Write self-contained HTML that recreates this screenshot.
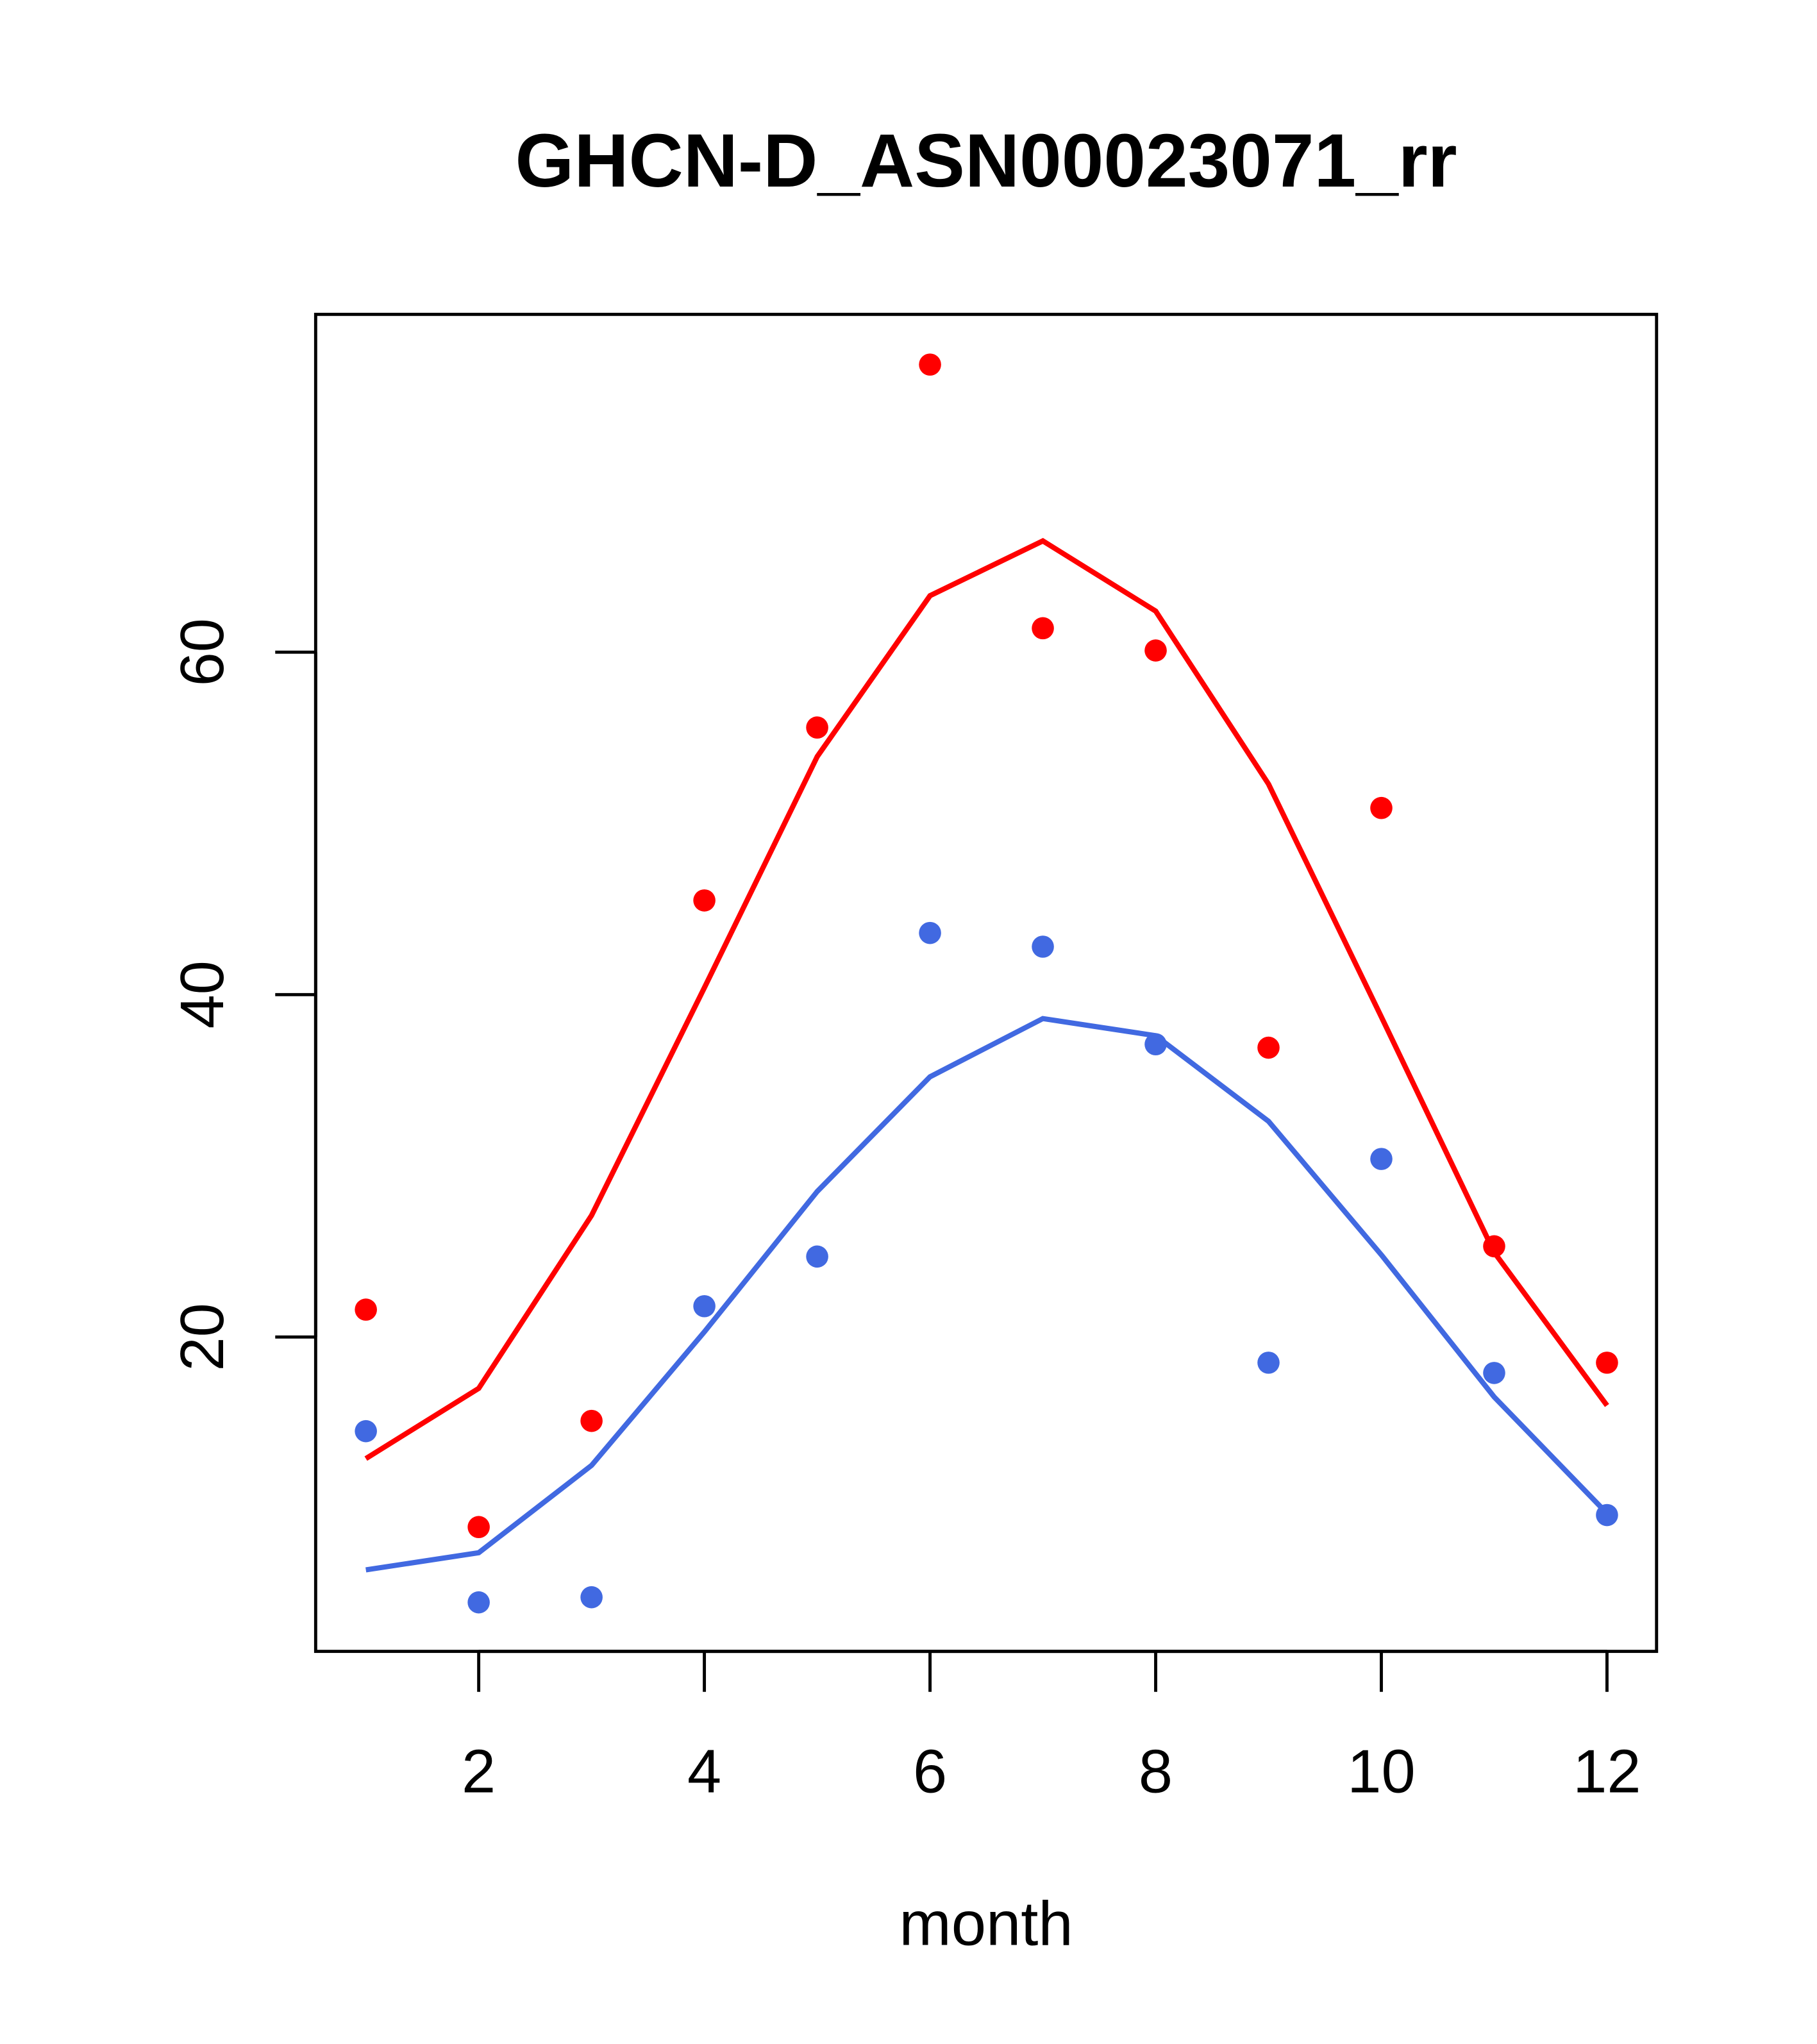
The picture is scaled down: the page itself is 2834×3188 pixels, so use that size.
<!DOCTYPE html>
<html><head><meta charset="utf-8"><style>html,body{margin:0;padding:0;background:#fff}svg{display:block}</style></head>
<body>
<svg id="chart" width="2834" height="3188" viewBox="0 0 1393 1567" preserveAspectRatio="none" xmlns="http://www.w3.org/2000/svg" font-family="Liberation Sans, Arial, sans-serif">
<rect width="1400" height="1575" fill="#fff"/>
<text x="756" y="143" font-size="58" font-weight="bold" text-anchor="middle">GHCN-D_ASN00023071_rr</text>
<rect x="242" y="241" width="1028" height="1025" fill="none" stroke="#000" stroke-width="2.4"/>
<g id="xaxis"></g>
<g id="yaxis"></g>
<g id="marks"></g>
<text x="756" y="1491" font-size="48" text-anchor="middle">month</text>
</svg>
<script>
const months=[1,2,3,4,5,6,7,8,9,10,11,12];
const xTicks=[2,4,6,8,10,12];
const yTicks=[20,40,60];
const redPoints=[21.6,8.9,15.1,45.5,55.6,76.8,61.4,60.1,36.9,50.9,25.3,18.5];
const redLine=[12.9,17.0,27.1,40.4,53.9,63.3,66.5,62.4,52.3,38.7,24.95,16.0];
const bluePoints=[14.5,4.5,4.8,21.8,24.7,43.6,42.8,37.1,18.5,30.4,17.9,9.6];
const blueLine=[6.4,7.4,12.5,20.3,28.5,35.2,38.6,37.6,32.6,24.8,16.5,9.7];
const NS='http://www.w3.org/2000/svg';
const X=m=>280.5+(m-1)*86.5;
const Y=v=>1287.5-v*13.125;
function mk(t,a,p){const e=document.createElementNS(NS,t);for(const k in a)e.setAttribute(k,a[k]);p.appendChild(e);return e;}
const xa=document.getElementById('xaxis'),ya=document.getElementById('yaxis'),mg=document.getElementById('marks');
mk('line',{x1:X(2),x2:X(12),y1:1266,y2:1266,stroke:'#000','stroke-width':2.4},xa);
xTicks.forEach(t=>{
 const l=mk('line',{x1:X(t),x2:X(t),y1:1266,y2:1297,stroke:'#000','stroke-width':2.4},xa);
 
 
 const tx=mk('text',{x:X(t),y:1374,'font-size':47,'text-anchor':'middle'},xa);tx.textContent=t;
 
 
});
mk('line',{x1:242,x2:242,y1:Y(20),y2:Y(60),stroke:'#000','stroke-width':2.4},ya);
yTicks.forEach(t=>{
 const l=mk('line',{x1:211,x2:242,y1:Y(t),y2:Y(t),stroke:'#000','stroke-width':2.4},ya);
 
 
 const tx=mk('text',{x:0,y:0,'font-size':47,'text-anchor':'middle',transform:`translate(171,${Y(t)}) rotate(-90)`},ya);tx.textContent=t;
 
 
});
function series(line,pts,col,name){
 const pl=mk('polyline',{points:months.map((m,i)=>X(m)+','+Y(line[i])).join(' '),fill:'none',stroke:col,'stroke-width':4},mg);
 
 
 months.forEach((m,i)=>{
  const c=mk('circle',{cx:X(m),cy:Y(pts[i]),r:8.5,fill:col},mg);
  
  
 });
}
series(redLine,redPoints,'#ff0000','red-series');
series(blueLine,bluePoints,'#4169e1','blue-series');
</script>
</body></html>
